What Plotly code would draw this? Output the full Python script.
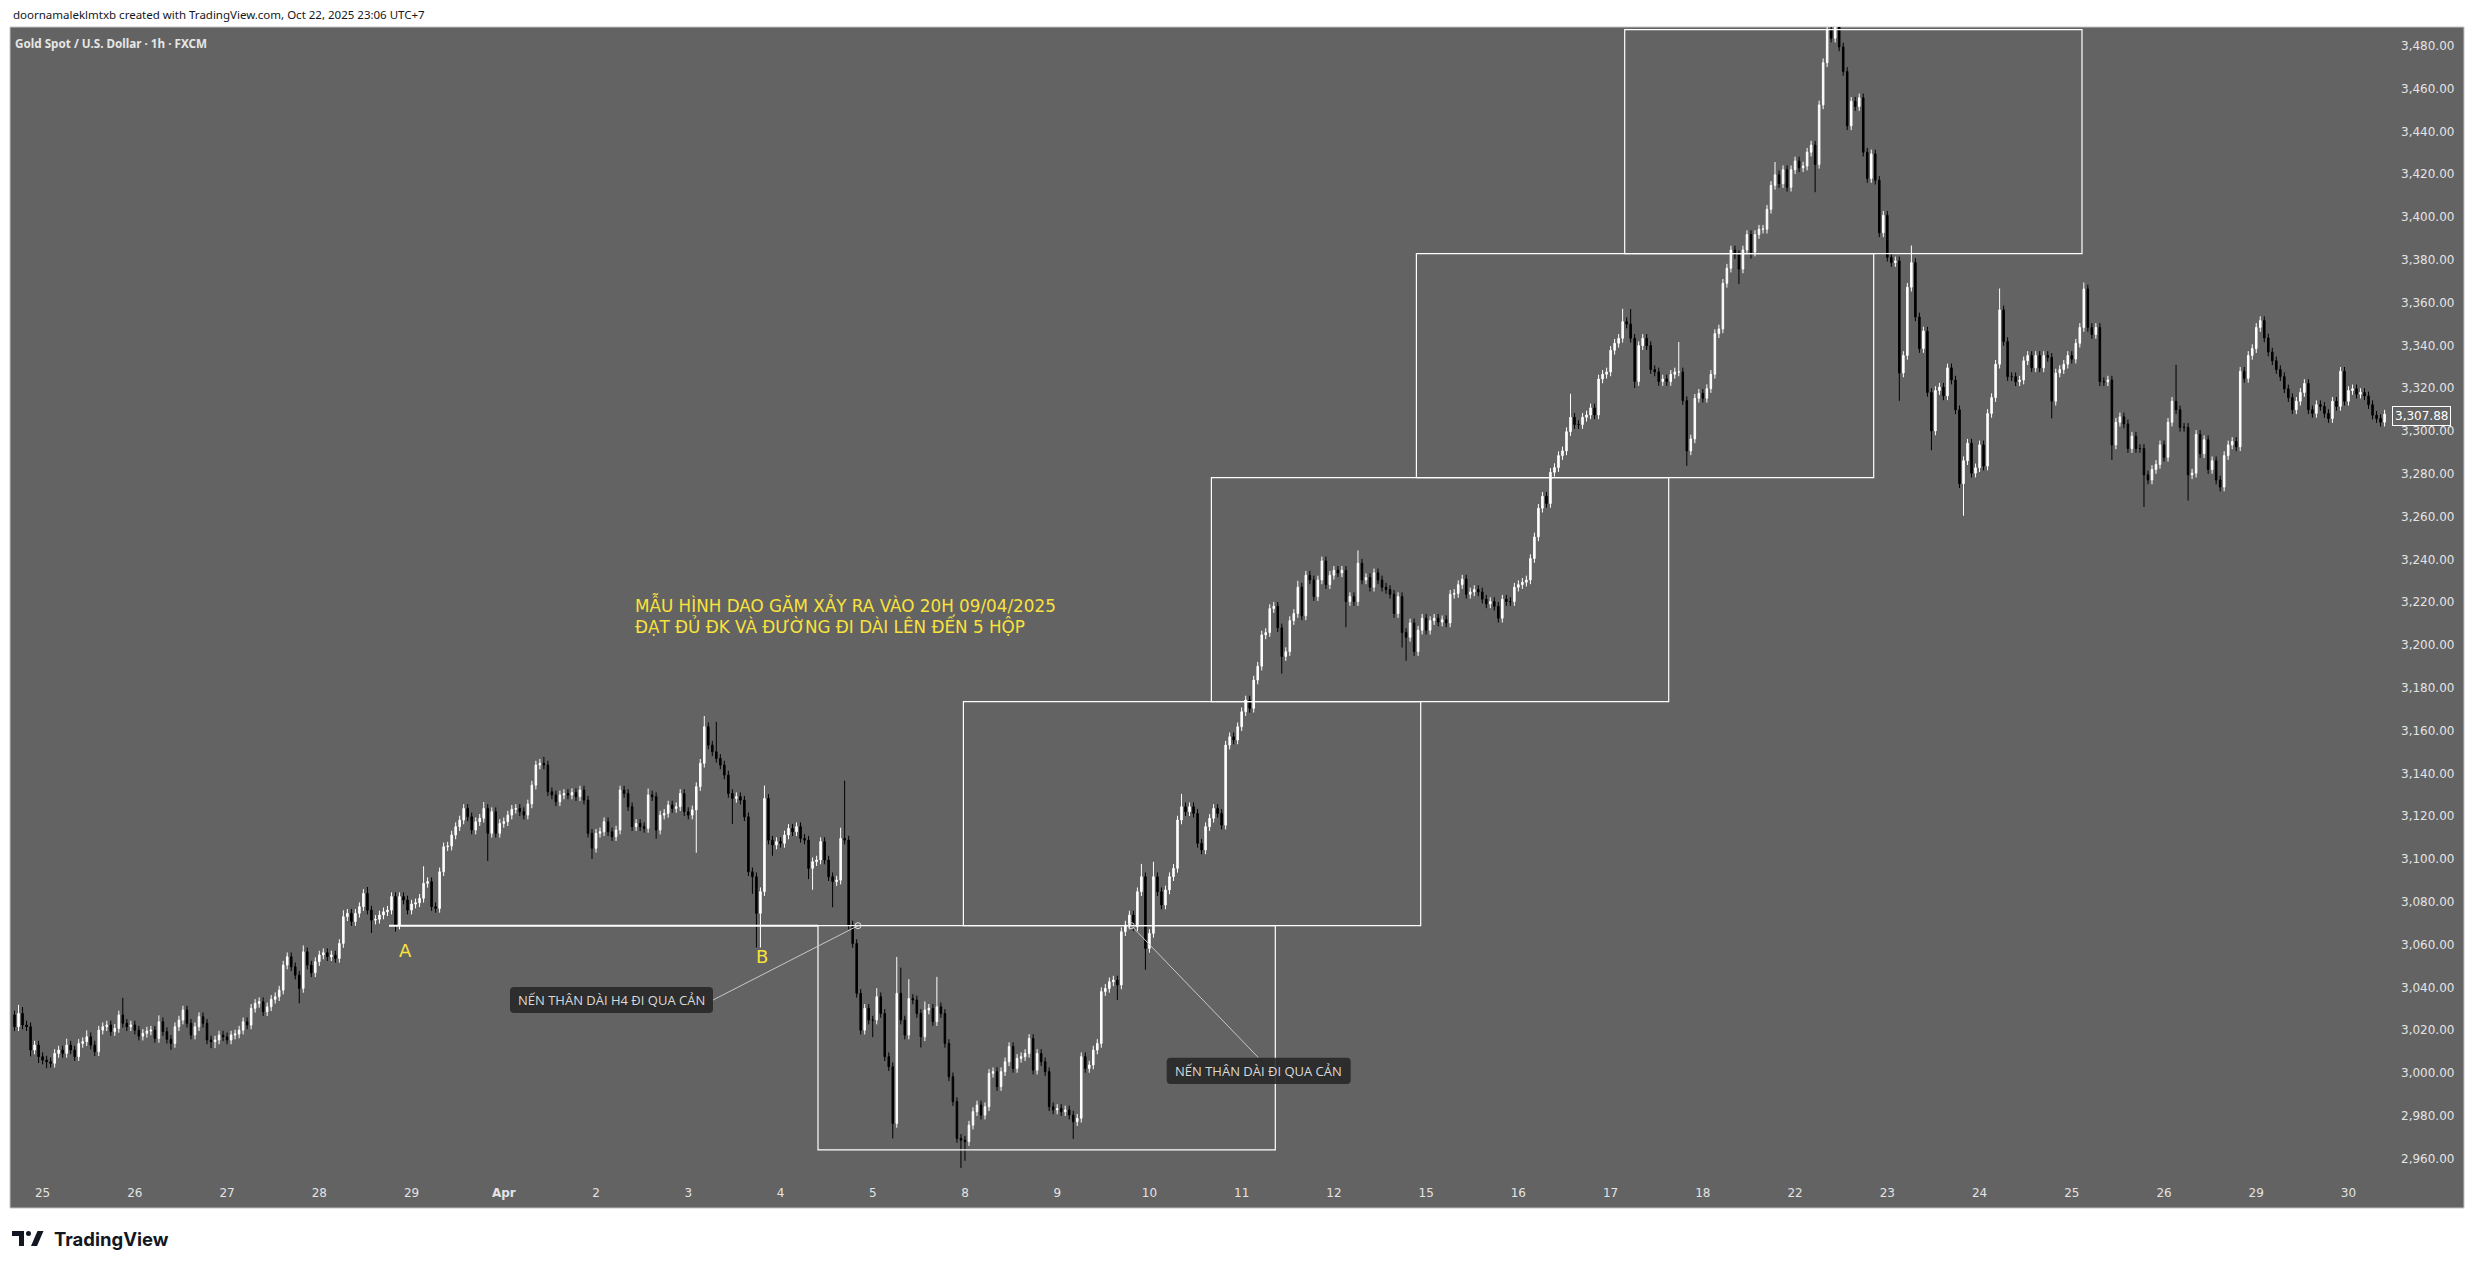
import plotly.graph_objects as go

# ------------------------------------------------------------------ data
day_labels = ["25", "26", "27", "28", "29", "<b>Apr</b>", "2", "3", "4", "5", "8", "9", "10",
              "11", "12", "15", "16", "17", "18", "22", "23", "24", "25", "26", "29", "30"]
bars_per_day = 23
first_label_bar = 7

price_ticks = [2960, 2980, 3000, 3020, 3040, 3060, 3080, 3100, 3120, 3140, 3160, 3180, 3200,
               3220, 3240, 3260, 3280, 3300, 3320, 3340, 3360, 3380, 3400, 3420, 3440, 3460, 3480]

first_open = 3027.1

close_a = [3021.6, 3027.8, 3022.4, 3021.6, 3010.7, 3013.0, 3007.6, 3006.0, 3005.2, 3004.5,
           3009.1, 3010.7, 3009.1, 3013.0, 3010.7, 3007.6, 3013.8, 3014.6, 3016.9, 3013.0,
           3009.9, 3020.0, 3021.6, 3022.4, 3019.3, 3020.8, 3027.1, 3023.2, 3021.6, 3022.4,
           3020.0, 3017.2, 3018.5, 3019.6, 3020.0, 3016.1, 3023.9, 3019.3, 3015.7, 3013.8,
           3021.6, 3024.7, 3029.4, 3023.2, 3017.7, 3021.6, 3026.3, 3023.2, 3015.4, 3014.6,
           3015.4, 3017.7, 3016.9, 3015.4, 3017.7, 3018.2, 3020.0, 3023.9, 3022.4, 3030.2,
           3032.5, 3033.3, 3028.6, 3030.9, 3034.4, 3035.6, 3038.7, 3050.4, 3054.3, 3049.6,
           3045.7, 3039.5, 3056.6, 3050.4, 3046.8, 3052.0, 3055.1, 3056.2, 3054.3, 3055.1,
           3053.5, 3060.5, 3073.0, 3074.6, 3070.7, 3074.6, 3077.7, 3083.9, 3076.1, 3071.4,
           3071.8, 3073.8, 3075.3, 3076.1, 3082.4, 3069.1, 3082.4, 3080.8, 3076.1, 3078.9,
           3079.5, 3081.6, 3088.6, 3089.4, 3077.7, 3076.9, 3094.0, 3105.7, 3106.0, 3111.2,
           3115.1, 3118.2, 3123.6, 3119.7, 3113.5, 3117.4, 3119.0, 3123.6, 3112.0, 3122.1,
           3112.0, 3116.6, 3117.4, 3120.5, 3123.2, 3123.6, 3122.1, 3120.5, 3125.7, 3134.5,
           3143.9, 3144.7, 3143.9, 3131.4, 3129.9, 3126.7, 3129.9, 3130.6, 3129.9, 3131.0,
           3129.1, 3132.2, 3127.5, 3112.0, 3105.0, 3112.0, 3112.7, 3117.4, 3112.7, 3110.4,
           3113.5]
close_b = [3132.2, 3130.6, 3124.4, 3115.1, 3116.6, 3115.1, 3114.3, 3129.9, 3129.1, 3113.5,
           3120.5, 3121.3, 3125.2, 3123.6, 3124.4, 3130.6, 3122.1, 3120.5, 3122.9, 3133.8,
           3144.7, 3161.8, 3153.2, 3150.1, 3147.0, 3143.9, 3139.2, 3130.6, 3128.3, 3129.1,
           3127.5, 3119.7, 3094.0, 3091.7, 3074.6, 3084.7, 3128.3, 3108.8, 3106.5, 3108.1,
           3107.3, 3111.2, 3114.3, 3112.7, 3115.1, 3109.6, 3108.8, 3095.6, 3098.7, 3099.5,
           3108.1, 3099.5, 3091.7, 3089.4, 3090.1, 3109.6, 3108.8, 3069.1, 3060.5, 3037.2,
           3020.0, 3030.2, 3024.7, 3024.7, 3035.6, 3027.8, 3007.6, 3002.9, 2976.4, 3037.2,
           3024.7, 3017.7, 3034.8, 3034.1, 3027.8, 3016.9, 3029.4, 3030.2, 3024.0, 3030.9,
           3027.8, 3013.8, 2998.2, 2986.6, 2969.4, 2968.6, 2967.9, 2975.6, 2981.9, 2985.0,
           2980.3, 2984.2, 2999.8, 3000.6, 2993.6, 3000.6, 3005.2, 3012.3, 3002.1, 3006.8,
           3007.6, 3009.1, 3016.1, 3001.3, 3009.1, 3005.2, 3000.6, 2984.2, 2982.7, 2983.4,
           2981.9, 2982.7, 2980.3, 2977.2, 2978.8, 3007.6, 3002.1, 3003.7, 3010.7, 3013.8,
           3038.0, 3039.5, 3042.6, 3043.4, 3041.1, 3066.0, 3069.1, 3073.8, 3068.3, 3084.7,
           3091.7, 3058.2, 3065.2, 3091.7, 3084.7, 3078.5, 3085.5, 3091.7, 3095.6, 3118.2,
           3124.4, 3122.1, 3124.4, 3121.3, 3107.3, 3104.2, 3115.1, 3119.0, 3123.6, 3121.3,
           3115.8, 3153.2, 3157.1, 3155.6, 3161.8, 3168.8, 3174.3, 3170.4, 3183.6]
close_c = [3190.1, 3204.7, 3205.8, 3217.0, 3218.1, 3208.0, 3194.6, 3196.9, 3211.4, 3214.7,
           3227.0, 3213.6, 3232.6, 3230.4, 3222.6, 3230.4, 3239.3, 3228.2, 3232.6, 3234.9,
           3233.7, 3234.9, 3220.3, 3222.6, 3220.3, 3238.2, 3230.4, 3231.5, 3227.0, 3233.7,
           3230.4, 3227.0, 3225.9, 3223.7, 3214.7, 3222.6, 3205.8, 3203.6, 3210.3, 3196.9,
           3206.9, 3212.5, 3206.9, 3211.4, 3212.5, 3210.7, 3211.8, 3210.3, 3223.7, 3224.1,
           3228.2, 3230.8, 3223.7, 3224.8, 3225.9, 3224.8, 3221.4, 3219.2, 3220.3, 3218.1,
           3212.5, 3221.4, 3220.3, 3220.3, 3227.0, 3228.2, 3229.3, 3230.4, 3240.4, 3250.5,
           3263.9, 3269.5, 3266.1, 3280.7, 3282.9, 3288.5, 3290.7, 3299.7, 3306.4, 3303.0,
           3303.0, 3306.4, 3307.5, 3310.8, 3307.5, 3324.3, 3326.5, 3327.6, 3337.7, 3341.0,
           3343.3, 3351.1, 3350.0, 3343.3, 3323.1, 3339.9, 3343.3, 3339.9, 3328.7, 3327.6,
           3323.1, 3324.3, 3323.1, 3326.5, 3327.6, 3327.6, 3314.2, 3290.7, 3296.3, 3315.3,
           3317.6, 3315.3, 3319.8, 3326.5, 3345.5, 3347.7, 3369.0, 3376.1, 3384.6, 3382.4,
           3375.7, 3384.6]
close_d = [3391.8, 3383.6, 3391.8, 3394.3, 3394.3, 3403.6, 3414.8, 3419.7, 3415.6, 3422.1,
           3413.9, 3422.1, 3426.2, 3423.0, 3423.8, 3430.3, 3433.6, 3424.6, 3452.4, 3472.1,
           3487.7, 3483.6, 3489.3, 3479.5, 3468.0, 3442.6, 3454.1, 3451.6, 3455.7, 3430.3,
           3418.0, 3429.5, 3417.2, 3392.6, 3400.8, 3381.2, 3378.7, 3379.5, 3327.1, 3335.3,
           3367.2, 3378.7, 3353.3, 3338.5, 3346.7, 3318.0, 3300.0, 3318.9, 3320.5, 3316.4,
           3329.5, 3323.8, 3309.9, 3275.4, 3286.1, 3294.3, 3280.3, 3282.8, 3293.5, 3283.6,
           3308.2, 3315.6, 3331.2, 3356.6, 3341.8, 3325.4, 3325.4, 3323.0, 3323.8, 3332.8,
           3335.3, 3329.5, 3335.3, 3329.5, 3335.3, 3334.4, 3313.9, 3327.1, 3328.7, 3331.2,
           3335.3, 3333.6, 3341.0, 3348.4, 3366.4, 3348.4, 3345.1, 3348.4, 3323.0, 3323.0,
           3323.8, 3293.5, 3304.1, 3306.6, 3303.3, 3291.8, 3297.6, 3291.8, 3291.8, 3279.5,
           3277.1, 3282.0, 3284.4, 3293.5, 3287.7, 3304.1, 3313.9, 3309.9, 3301.7, 3301.7,
           3279.5, 3280.3, 3298.4, 3289.4, 3295.9, 3282.0, 3286.1, 3277.1, 3273.8, 3288.5,
           3293.5, 3295.1, 3292.6, 3327.9, 3324.6, 3335.3, 3338.5, 3348.4, 3351.6, 3343.5,
           3336.9, 3332.8, 3328.7, 3325.4, 3319.7, 3315.6, 3309.9, 3313.9, 3318.0, 3322.2,
           3309.9, 3308.2, 3312.3, 3311.5, 3308.2, 3305.8, 3313.9, 3311.5, 3327.9, 3313.9,
           3318.9, 3319.7, 3317.2, 3318.0, 3316.4, 3312.3, 3307.4, 3305.8, 3304.1, 3307.88]

# upper / lower wick lengths (USD) read per candle
hw_a = [2,4,3,2,2,2,2,2,2,2, 2,2,2,3,2,2,2,2,3,2, 2,2,2,2,2,2,2,8,2,2, 2,2,2,2,2,2,3,2,2,2,
        2,2,2,2,2,2,2,2,2,2, 2,2,2,2,2,2,2,2,2,2, 2,2,2,2,2,2,2,2,2,2, 2,2,3,2,2,2,2,2,2,2,
        2,2,3,2,2,2,2,2,3,2, 2,2,2,2,2,2,2,2,2,2, 2,2,8,2,2,2,2,2,2,2, 2,2,2,2,2,2,2,3,2,2,
        2,2,2,2,2,2,2,2,2,2, 2,2,3,2,2,2,2,2,2,2, 2,2,2,2,2,2,2,2,2,2, 2]
lw_a = [2,2,2,2,3,2,3,2,3,2, 2,2,2,2,2,2,2,2,2,2, 2,2,2,2,2,2,2,2,2,2, 2,2,2,2,2,2,2,2,2,3,
        2,2,2,2,2,2,2,2,2,3, 3,2,2,2,2,2,2,2,2,2, 2,2,2,2,2,2,2,2,2,2, 2,7,2,2,2,2,2,2,2,2,
        2,2,2,2,2,2,2,2,2,6, 2,2,2,2,2,3,2,2,2,2, 2,2,2,2,2,2,2,2,2,2, 2,2,2,2,2,2,2,2,13,2,
        2,2,2,2,2,2,2,2,2,2, 2,2,2,2,2,2,2,2,2,2, 2,2,2,2,5,2,2,2,2,2, 2]
hw_b = [2,2,2,2,2,2,2,3,2,2, 2,2,2,2,2,2,2,2,2,2, 2,5,2,2,14,2,2,2,2,2, 2,2,2,2,2,2,6,2,2,2,
        2,2,2,2,2,2,2,2,2,2, 2,2,2,2,2,5,27,2,2,2, 2,2,2,2,4,2,2,2,2,17, 12,2,9,2,2,2,4,2,2,14,
        2,2,2,2,2,2,2,2,2,2, 2,2,2,2,2,2,2,2,2,2, 2,2,2,2,2,2,2,2,2,2, 2,2,2,2,2,2,2,2,2,2,
        2,2,2,2,2,2,2,2,2,2, 6,2,2,7,2,2,2,2,2,2, 6,2,2,2,2,2,2,2,2,2, 2,2,2,2,2,2,2,2,2]
lw_b = [2,2,2,2,2,2,2,2,2,4, 2,2,2,2,2,2,2,2,2,20, 2,2,2,2,2,2,2,2,12,2, 2,2,2,8,16,16,2,2,5,2,
        2,2,2,2,2,2,2,5,10,2, 2,2,2,12,2,2,2,2,2,2, 2,2,2,8,2,2,2,2,7,2, 2,2,2,2,2,5,2,2,2,2,
        2,2,2,2,2,13,9,2,2,2, 2,2,2,2,2,2,2,2,2,2, 2,2,2,2,2,2,2,2,2,2, 2,2,2,8,2,2,2,2,2,2,
        2,2,2,2,7,2,2,2,2,2, 2,10,2,2,2,2,2,2,2,2, 2,2,2,2,2,2,2,2,2,2, 2,2,2,2,2,2,2,2,2]
hw_c = [2,2,2,2,2,2,2,2,2,2, 3,2,2,2,2,2,2,2,2,2, 2,2,2,2,2,6,2,2,2,2, 2,2,2,2,2,2,2,2,2,2,
        2,2,2,2,2,2,2,2,2,2, 2,2,2,2,2,2,2,2,2,2, 2,2,2,2,2,2,2,2,2,2, 2,2,2,2,2,2,2,2,11,2,
        2,2,2,2,2,2,2,2,2,2, 2,6,2,7,2,2,2,2,2,2, 2,2,2,2,2,14,2,2,2,2, 2,2,2,2,2,2,2,2,2,2,
        2,2]
lw_c = [2,2,2,2,2,2,8,2,2,2, 2,2,2,2,2,2,2,2,2,2, 2,2,12,2,2,2,2,2,2,2, 2,2,2,2,2,2,7,11,2,2,
        2,2,2,2,2,2,2,2,2,2, 2,2,2,2,2,2,2,2,2,2, 2,2,2,2,2,2,2,2,2,2, 2,2,2,2,2,2,2,2,2,2,
        2,2,2,2,2,2,2,2,2,2, 2,2,2,2,3,2,2,2,2,2, 2,2,2,2,2,2,2,7,2,2, 2,2,2,2,2,2,2,2,2,2,
        7,2]
hw_d = [2,2,2,2,2,2,2,6,2,2, 2,2,2,2,2,2,2,2,2,2, 2,2,3,2,2,2,2,2,2,2, 2,2,2,2,2,2,2,2,2,2,
        2,8,2,2,2,2,2,2,2,2, 2,2,2,2,2,2,2,2,2,2, 2,2,2,10,2,2,2,2,2,2, 2,2,2,2,2,2,2,2,2,2,
        2,2,2,2,3,2,2,2,2,2, 2,2,2,2,2,2,2,2,2,2, 2,2,2,2,2,2,2,17,2,2, 2,2,2,2,2,2,2,2,2,2,
        2,2,2,2,2,2,2,2,2,2, 2,2,2,2,2,2,2,2,2,2, 2,2,2,2,2,2,2,2,2,2, 2,2,2,2,2,2,2,2,2,2]
lw_d = [2,3,2,2,2,2,2,2,2,2, 2,2,2,2,2,2,2,13,2,2, 2,2,2,2,2,2,2,2,2,2, 2,2,2,2,2,2,2,2,13,2,
        2,2,2,2,2,2,9,2,2,2, 2,2,2,2,15,2,2,2,2,2, 2,2,2,2,2,2,2,2,2,2, 2,2,2,2,2,2,8,2,2,2,
        2,2,2,2,2,2,2,2,2,2, 2,7,2,2,2,2,2,2,2,15, 2,2,2,2,2,2,2,2,2,2, 12,2,2,2,2,2,2,2,2,2,
        2,2,2,2,2,2,2,2,2,2, 2,2,2,2,2,2,2,2,2,2, 2,2,2,2,2,2,2,2,2,2, 2,2,2,2,2,2,2,2,2,2]

last_price = 3307.88
resistance = 3068.8
box_levels = [2964.0, 3068.8, 3173.5, 3278.2, 3382.9, 3487.6]

# ------------------------------------------------------------------ build OHLC
close = close_a + close_b + close_c + close_d
hw = hw_a + hw_b + hw_c + hw_d
lw = lw_a + lw_b + lw_c + lw_d
assert len(close) == len(hw) == len(lw), (len(close), len(hw), len(lw))
opens = [first_open] + close[:-1]
highs = [max(o, c) + h for o, c, h in zip(opens, close, hw)]
lows = [min(o, c) - l for o, c, l in zip(opens, close, lw)]
xs = list(range(len(close)))

# ------------------------------------------------------------------ geometry (px)
W, H = 2475, 1269
L, R, T, B = 10, 2391, 27, 1178
X_LEFT, X_RIGHT = -1.13, 592.6
Y_BOT, Y_TOP = 2950.9, 3488.8


def px(X):
    return (X - L) / (R - L)


def py(Y):
    return (B - Y) / (B - T)


def xbar(X):
    return X_LEFT + (X - L) / (R - L) * (X_RIGHT - X_LEFT)


fig = go.Figure()
fig.add_trace(go.Candlestick(
    x=xs, open=opens, high=highs, low=lows, close=close,
    increasing=dict(line=dict(color="#ffffff", width=1), fillcolor="#ffffff"),
    decreasing=dict(line=dict(color="#000000", width=1), fillcolor="#000000"),
    whiskerwidth=0, hoverinfo="skip", showlegend=False,
))

shapes = []
# panel background and frame
shapes.append(dict(type="rect", xref="paper", yref="paper", x0=px(10), x1=px(2464), y0=py(27), y1=py(1208),
                   fillcolor="#636363", line=dict(color="#c4c4c4", width=1), layer="below"))

# resistance line A -> box
shapes.append(dict(type="line", xref="x", yref="y", x0=xbar(389), x1=xbar(818), y0=resistance, y1=resistance,
                   line=dict(color="#ffffff", width=2)))

# the five boxes
box_left_px = [818, 963.4, 1211.4, 1416.4, 1624.7]
box_w_px = 457.3
for i, xl in enumerate(box_left_px):
    shapes.append(dict(type="rect", xref="x", yref="y", x0=xbar(xl), x1=xbar(xl + box_w_px),
                       y0=box_levels[i], y1=box_levels[i + 1],
                       line=dict(color="#ffffff", width=1.2), fillcolor="rgba(0,0,0,0)"))


def rrect(x0, y0, x1, y1, r):
    return (f"M {px(x0 + r)},{py(y0)} L {px(x1 - r)},{py(y0)} Q {px(x1)},{py(y0)} {px(x1)},{py(y0 + r)} "
            f"L {px(x1)},{py(y1 - r)} Q {px(x1)},{py(y1)} {px(x1 - r)},{py(y1)} "
            f"L {px(x0 + r)},{py(y1)} Q {px(x0)},{py(y1)} {px(x0)},{py(y1 - r)} "
            f"L {px(x0)},{py(y0 + r)} Q {px(x0)},{py(y0)} {px(x0 + r)},{py(y0)} Z")


# callout connector lines
callouts = [((713, 1000), (858, 925.7)), ((1258.3, 1057.5), (1131.3, 925.7))]
for (ax, ay), (bx, by) in callouts:
    shapes.append(dict(type="line", xref="paper", yref="paper", x0=px(ax), y0=py(ay), x1=px(bx), y1=py(by),
                       line=dict(color="#c8c8c8", width=1)))
    shapes.append(dict(type="circle", xref="paper", yref="paper", x0=px(bx - 3), x1=px(bx + 3),
                       y0=py(by - 3), y1=py(by + 3), line=dict(color="#d8d8d8", width=1)))

# callout label backgrounds
label_boxes = [(510, 987, 713, 1013), (1166.7, 1057.7, 1350.7, 1084)]
for x0, y0, x1, y1 in label_boxes:
    shapes.append(dict(type="path", xref="paper", yref="paper", path=rrect(x0, y0, x1, y1, 4),
                       fillcolor="rgba(38,38,38,0.88)", line=dict(width=0)))

# TradingView logo glyph
shapes.append(dict(type="path", xref="paper", yref="paper",
                   path=f"M {px(12)},{py(1231)} L {px(24)},{py(1231)} L {px(24)},{py(1246)} L {px(19)},{py(1246)} "
                        f"L {px(19)},{py(1236)} L {px(12)},{py(1236)} Z",
                   fillcolor="#131722", line=dict(width=0)))
shapes.append(dict(type="circle", xref="paper", yref="paper", x0=px(26), x1=px(31), y0=py(1231), y1=py(1236),
                   fillcolor="#131722", line=dict(width=0)))
shapes.append(dict(type="path", xref="paper", yref="paper",
                   path=f"M {px(31)},{py(1246)} L {px(37.5)},{py(1231)} L {px(43.5)},{py(1231)} L {px(37)},{py(1246)} Z",
                   fillcolor="#131722", line=dict(width=0)))

ann = []


def text(x, y, s, size, color, family="DejaVu Sans", xanchor="left", **kw):
    ann.append(dict(xref="paper", yref="paper", x=px(x), y=py(y), text=s, showarrow=False,
                    xanchor=xanchor, yanchor="middle", font=dict(size=size, color=color, family=family), **kw))


text(11, 14, "doornamaleklmtxb created with TradingView.com, Oct 22, 2025 23:06 UTC+7", 11.5, "#131722",
     family="Noto Sans")
text(13, 43, "<b>Gold Spot / U.S. Dollar · 1h · FXCM</b>", 11.7, "#e6e6e6", family="Noto Sans")
text(633, 604, "MẪU HÌNH DAO GĂM XẢY RA VÀO 20H 09/04/2025", 16.8, "#f9e23c")
text(633, 626, "ĐẠT ĐỦ ĐK VÀ ĐƯỜNG ĐI DÀI LÊN ĐẾN 5 HỘP", 16.8, "#f9e23c")
text(405.7, 950, "A", 18, "#f9e23c", xanchor="center")
text(762, 956, "B", 18, "#f9e23c", xanchor="center")
text(611.5, 1000, "NẾN THÂN DÀI H4 ĐI QUA CẢN", 13, "#dadada", family="Open Sans", xanchor="center")
text(1258.7, 1071, "NẾN THÂN DÀI ĐI QUA CẢN", 13, "#dadada", family="Open Sans", xanchor="center")
text(52, 1239, "<b>TradingView</b>", 18.5, "#131722", family="Inter")
ann.append(dict(xref="paper", yref="paper", x=px(2392), y=py(415.5), text=f"{last_price:,.2f}", showarrow=False,
                xanchor="left", yanchor="middle", bgcolor="#636363", bordercolor="#ffffff", borderwidth=1,
                borderpad=2, font=dict(size=12, color="#ffffff", family="DejaVu Sans")))

fig.update_layout(
    width=W, height=H, margin=dict(l=L, r=W - R, t=T, b=H - B, autoexpand=False),
    paper_bgcolor="#ffffff", plot_bgcolor="#636363",
    shapes=shapes, annotations=ann, boxgap=0.45, showlegend=False,
    xaxis=dict(range=[X_LEFT, X_RIGHT], showgrid=False, zeroline=False, showline=False, ticks="",
               tickvals=[first_label_bar + bars_per_day * k for k in range(len(day_labels))],
               ticktext=day_labels, tickfont=dict(family="DejaVu Sans", size=12, color="#e4e4e4"),
               ticklabelstandoff=6, rangeslider=dict(visible=False), fixedrange=True),
    yaxis=dict(range=[Y_BOT, Y_TOP], side="right", showgrid=False, zeroline=False, showline=False, ticks="",
               tickvals=price_ticks, tickformat=",.2f", tickfont=dict(family="DejaVu Sans", size=12, color="#e4e4e4"),
               ticklabelstandoff=9, fixedrange=True),
)

fig.write_html("out.html", include_plotlyjs=True, config={"displayModeBar": False},
               post_script="document.body.style.margin='0';")
